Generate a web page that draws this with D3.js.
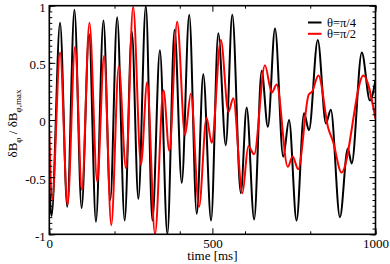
<!DOCTYPE html>
<html>
<head>
<meta charset="utf-8">
<script src="https://cdn.jsdelivr.net/npm/d3@7"></script>
<style>
  body { margin: 0; background: #fff; }
  svg { display: block; }
  svg text { font-family: "Liberation Serif", "Times New Roman", "DejaVu Serif", serif; }
</style>
</head>
<body>
<div id="chart"></div>
<script>
// extrema (time in ms, normalised dB_phi)
const timesPi4 = [0, 7, 33, 55, 77, 99, 122, 143, 166, 187, 208, 231, 253, 273, 296, 316, 339, 362, 384, 406, 429, 452, 472, 496, 518, 541, 561, 587, 605, 628, 651, 670, 692, 717, 735, 758, 781, 796, 823, 848, 863, 891, 915, 927, 958, 983, 1000]
const valuesPi4 = [-0.55, -0.84, 0.85, -0.76, 0.965, -0.77, 0.75, -0.89, 0.87, -0.70, 0.90, -0.88, 0.775, -0.69, 1.0, -0.88, 0.61, -1.0, 0.79, -0.55, 0.92, -0.82, 0.40, -0.88, 0.76, -0.22, 0.92, -0.64, 0.11, -0.87, 0.43, -0.06, 0.80, -0.32, 0.0, -0.88, 0.06, -0.09, 0.70, -0.03, 0.09, -0.85, -0.25, -0.38, 0.59, 0.17, 0.35]

const timesPi2 = [0, 9, 33, 56, 79, 100, 123, 147, 168, 190, 213, 235, 257, 281, 300, 324, 350, 368, 392, 416, 434, 459, 482, 498, 526, 549, 564, 592, 610, 628, 661, 682, 697, 731, 746, 763, 795, 806, 825, 855, 870, 896, 963, 1000]
const valuesPi2 = [-0.1, -0.70, 0.59, -0.74, 0.64, -0.61, 0.85, -0.54, 0.56, -0.92, 0.47, -0.42, 0.99, -0.39, 0.33, -1.0, 0.26, -0.27, 0.86, -0.13, 0.23, -0.76, 0.02, -0.20, 0.70, 0.07, 0.19, -0.64, -0.23, -0.30, 0.48, 0.24, 0.31, -0.41, -0.32, -0.43, 0.22, 0.25, 0.39, -0.07, -0.19, -0.46, 0.39, 0.01]

const xTicks = [0, 500, 1000]
const yTicks = [-1, -0.5, 0, 0.5, 1]
const yTickLabels = ['-1', '-0.5', '0', '0.5', '1']
const legendLabels = ['θ=π/4', 'θ=π/2']
const colors = ['#000000', '#ff0000']

const width = 390
const height = 264
const margin = { top: 5.7, right: 14.5, bottom: 29.7, left: 49.3 }
const fontFamily = '"Liberation Serif", "Times New Roman", "DejaVu Serif", serif'

const svg = d3.select('#chart')
  .append('svg')
  .attr('width', width)
  .attr('height', height)

const x = d3.scaleLinear().domain([0, 1000]).range([margin.left, width - margin.right])
const y = d3.scaleLinear().domain([-1, 1]).range([height - margin.bottom, margin.top])

const plotLeft = x(0)
const plotRight = x(1000)
const plotTop = y(1)
const plotBottom = y(-1)

svg.append('clipPath')
  .attr('id', 'plot-clip')
  .append('rect')
  .attr('x', plotLeft)
  .attr('y', plotTop)
  .attr('width', plotRight - plotLeft)
  .attr('height', plotBottom - plotTop)

const line = d3.line()
  .x(d => x(d[0]))
  .y(d => y(d[1]))
  .curve(d3.curveMonotoneX)

const series = [
  d3.zip(timesPi4, valuesPi4),
  d3.zip(timesPi2, valuesPi2)
]

svg.append('g')
  .attr('clip-path', 'url(#plot-clip)')
  .selectAll('path')
  .data(series)
  .enter()
  .append('path')
  .attr('d', line)
  .attr('fill', 'none')
  .attr('stroke', (d, i) => colors[i])
  .attr('stroke-width', 2)
  .attr('stroke-linejoin', 'round')

// axes, ticks point inwards on all four sides
function styleAxis (g) {
  g.attr('font-family', null)
  g.select('.domain').remove()
  g.selectAll('line').attr('stroke', '#000').attr('stroke-width', 1)
  g.selectAll('text').style('font-family', fontFamily).attr('font-size', 13).attr('fill', '#000')
}

svg.append('g')
  .attr('transform', `translate(0,${plotBottom})`)
  .call(d3.axisBottom(x).tickValues(x.ticks(4)).tickSize(-3).tickFormat(''))
  .call(styleAxis)
svg.append('g')
  .attr('transform', `translate(0,${plotBottom})`)
  .call(d3.axisBottom(x).tickValues(xTicks).tickSize(-6).tickPadding(4).tickFormat(d3.format('d')))
  .call(styleAxis)
svg.append('g')
  .attr('transform', `translate(0,${plotTop})`)
  .call(d3.axisTop(x).tickValues(x.ticks(4)).tickSize(-3).tickFormat(''))
  .call(styleAxis)
svg.append('g')
  .attr('transform', `translate(0,${plotTop})`)
  .call(d3.axisTop(x).tickValues(xTicks).tickSize(-6).tickFormat(''))
  .call(styleAxis)

svg.append('g')
  .attr('transform', `translate(${plotLeft},0)`)
  .call(d3.axisLeft(y).tickValues(y.ticks(40)).tickSize(-3).tickFormat(''))
  .call(styleAxis)
svg.append('g')
  .attr('transform', `translate(${plotLeft},0)`)
  .call(d3.axisLeft(y).tickValues(yTicks).tickSize(-6).tickPadding(3.5).tickFormat((d, i) => yTickLabels[i]))
  .call(styleAxis)
  .call(g => g.selectAll('text').attr('dy', '0.45em'))
svg.append('g')
  .attr('transform', `translate(${plotRight},0)`)
  .call(d3.axisRight(y).tickValues(y.ticks(40)).tickSize(-3).tickFormat(''))
  .call(styleAxis)
svg.append('g')
  .attr('transform', `translate(${plotRight},0)`)
  .call(d3.axisRight(y).tickValues(yTicks).tickSize(-6).tickFormat(''))
  .call(styleAxis)

// frame
svg.append('rect')
  .attr('x', plotLeft)
  .attr('y', plotTop)
  .attr('width', plotRight - plotLeft)
  .attr('height', plotBottom - plotTop)
  .attr('fill', 'none')
  .attr('stroke', '#000')
  .attr('stroke-width', 1.6)

// axis titles
svg.append('text')
  .attr('x', (plotLeft + plotRight) / 2)
  .attr('y', 260)
  .attr('text-anchor', 'middle')
  .attr('font-size', 13)
  .text('time [ms]')

const yTitle = svg.append('text')
  .attr('transform', 'translate(16.5,123.5) rotate(-90)')
  .attr('text-anchor', 'middle')
  .attr('font-size', 13)
yTitle.append('tspan').text('δB')
yTitle.append('tspan').attr('font-size', 9).attr('dy', 4).text('φ')
yTitle.append('tspan').attr('dy', -4).text('  / δB')
yTitle.append('tspan').attr('font-size', 9).attr('dy', 4).text('φ,max')

// legend
const legend = svg.append('g')
  .selectAll('g')
  .data(legendLabels)
  .enter()
  .append('g')
  .attr('transform', (d, i) => `translate(308,${22.5 + i * 11.3})`)

legend.append('line')
  .attr('x1', 0)
  .attr('x2', 13.5)
  .attr('stroke', (d, i) => colors[i])
  .attr('stroke-width', 2)

legend.append('text')
  .attr('x', 19)
  .attr('dy', '0.33em')
  .attr('font-size', 12.5)
  .text(d => d)
</script>
</body>
</html>
